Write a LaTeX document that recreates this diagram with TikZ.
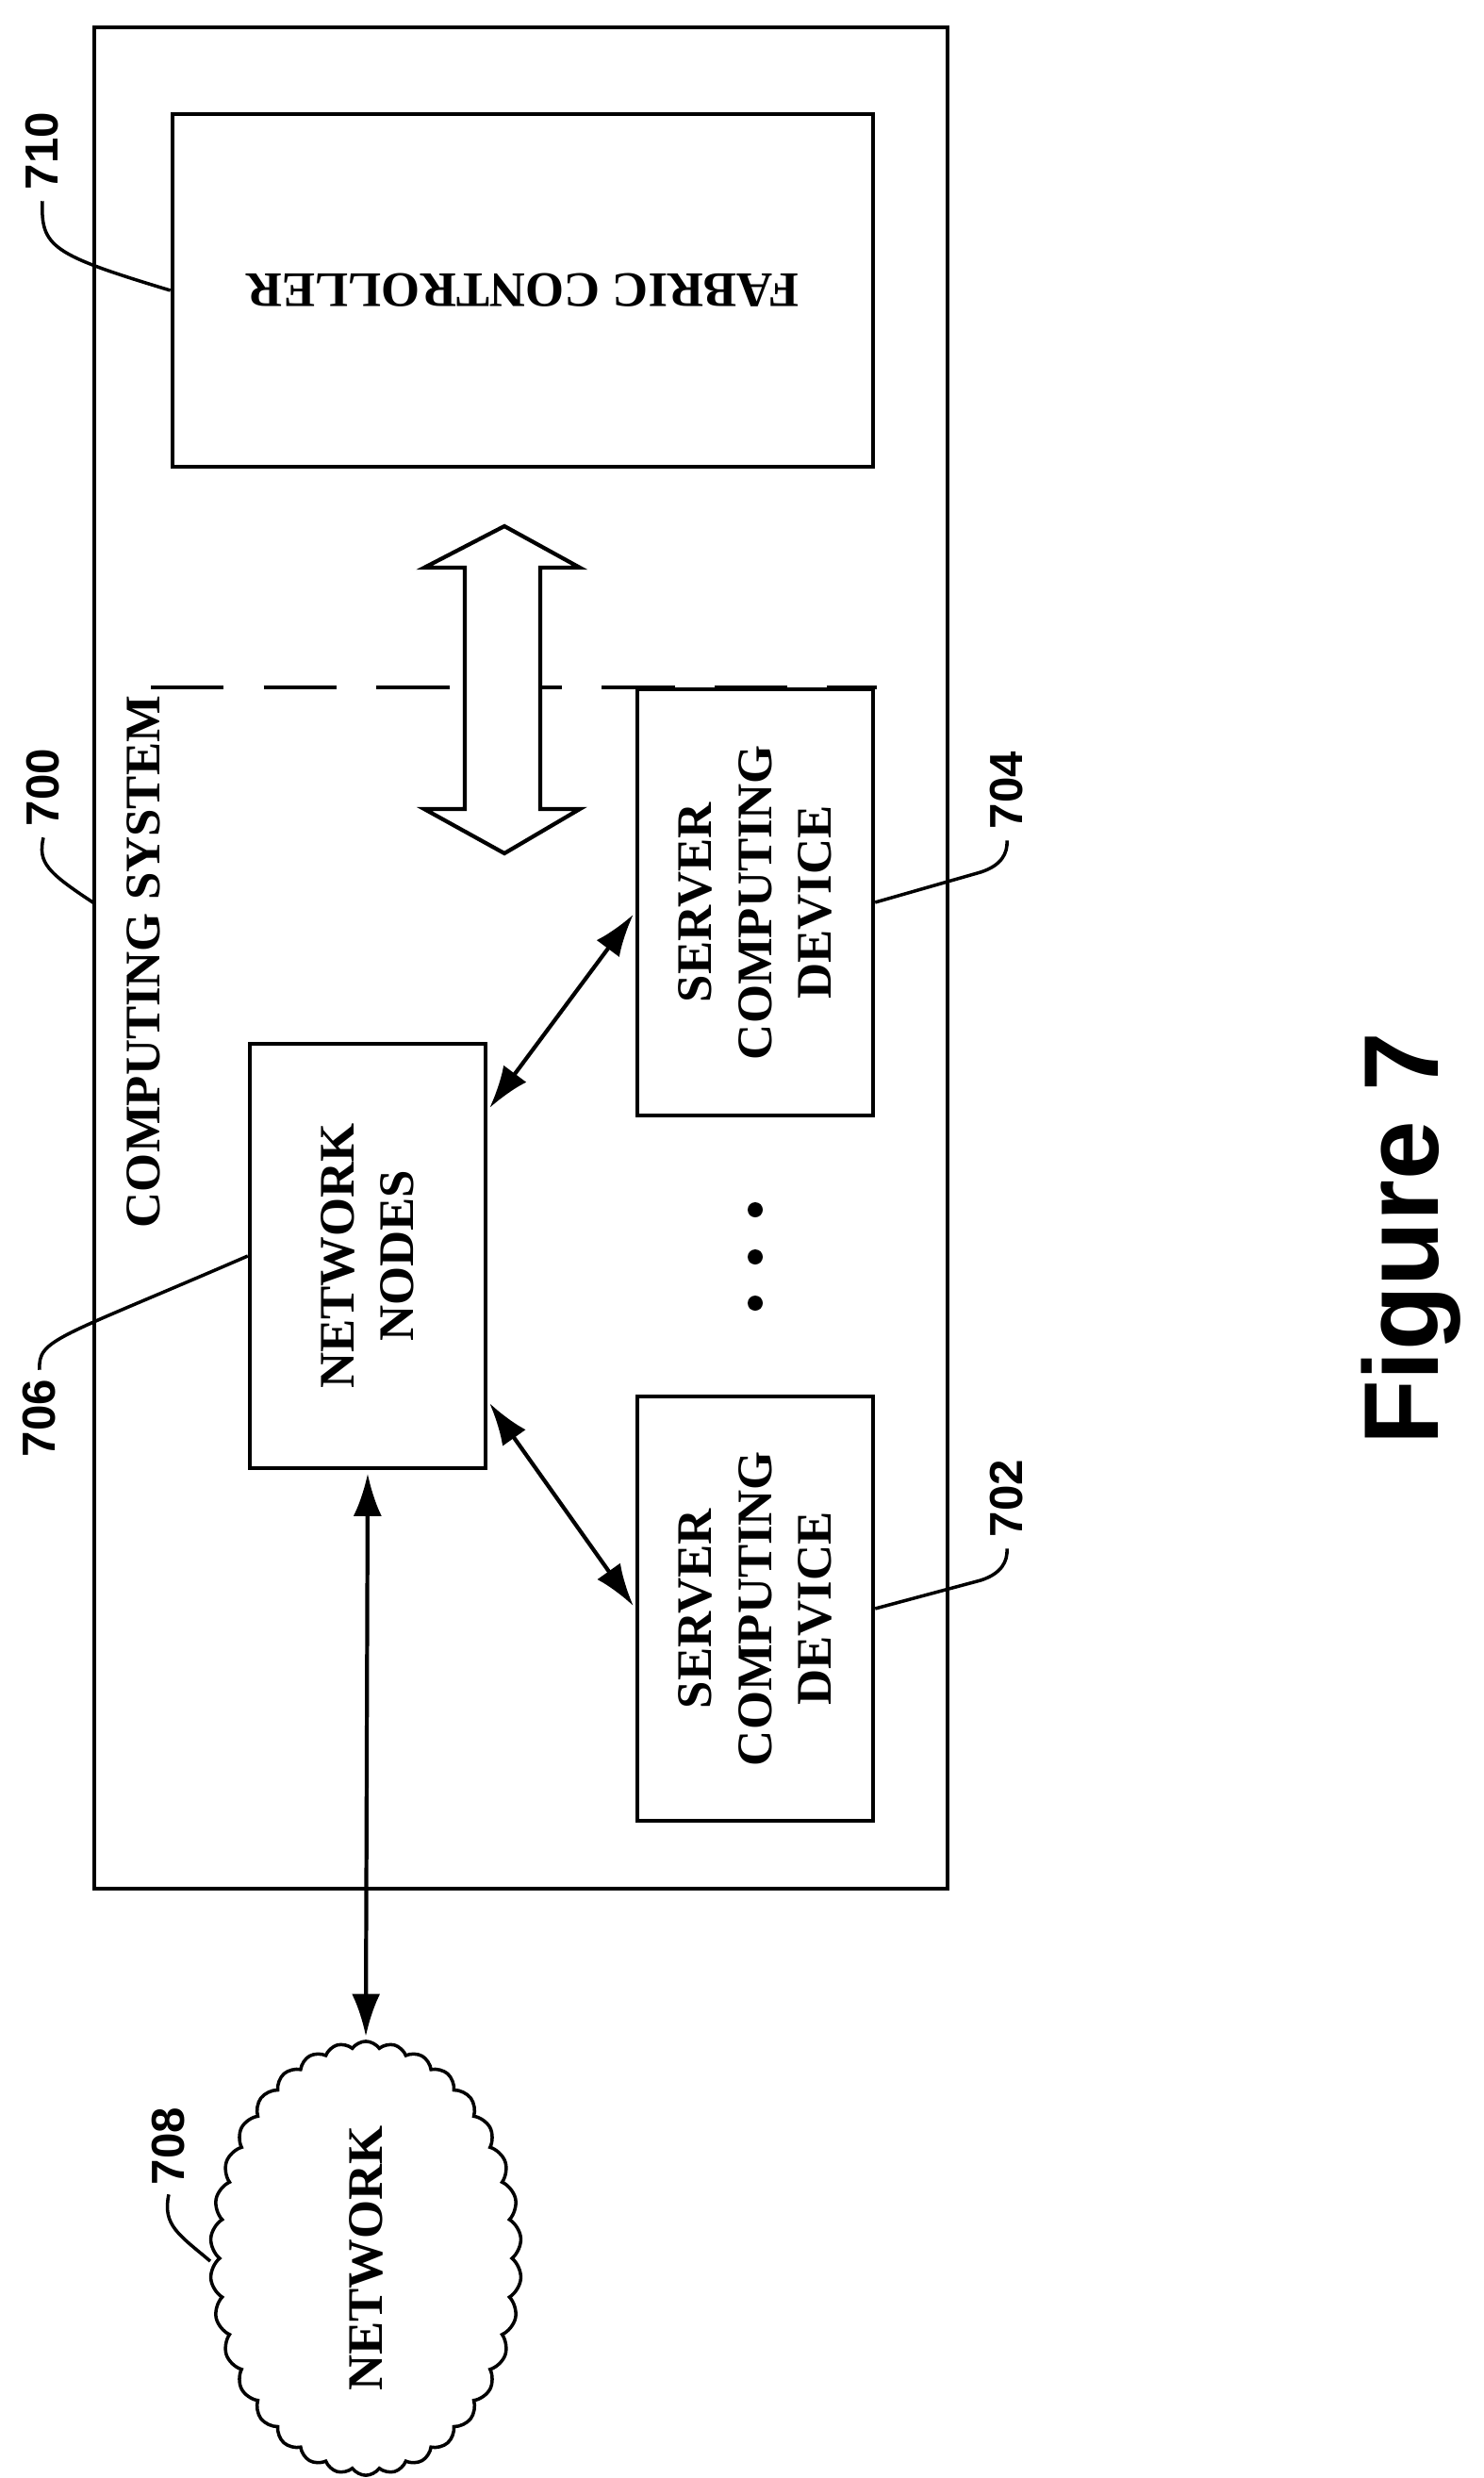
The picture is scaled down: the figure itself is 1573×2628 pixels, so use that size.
\documentclass[tikz,border=0pt]{standalone}
\usepackage{fontspec}
\setmainfont{Liberation Serif}
\setsansfont{Liberation Sans}
\usetikzlibrary{arrows.meta,shapes.symbols}

\tikzset{
  box/.style={draw, line width=1.2pt, align=center, inner sep=0pt, font=\fontsize{15}{18}\selectfont\bfseries},
  refnum/.style={font=\sffamily\fontsize{14}{16}\selectfont\bfseries, rotate=90, inner sep=1pt},
  leader/.style={line width=1pt},
  link/.style={line width=1.2pt, {Latex[length=4.5mm,width=3mm]}-{Latex[length=4.5mm,width=3mm]}, shorten <=1pt, shorten >=1pt}
}

\begin{document}
\begin{tikzpicture}[x=0.01cm, y=-0.01cm]
	\useasboundingbox (0,0) rectangle (1573,2628);
	% outer computing system box
	\draw[line width=1.2pt] (100,29) rectangle (1005,2003);
	\node[font=\fontsize{15}{18}\selectfont\bfseries, rotate=90] (title) at (152,1020) {COMPUTING SYSTEM};
	% fabric controller
	\node[box, minimum width=7.43cm, minimum height=3.74cm] (fabric) at (554.5,308) {};
	\node[font=\fontsize{15}{18}\selectfont\bfseries, rotate=180] (fabtxt) at (fabric) {FABRIC CONTROLLER};
	% dashed separation and double block arrow
	\draw[dashed, line width=1pt, dash pattern=on 22pt off 12pt] (160,729) -- (930,729);
	\draw[line width=1.2pt, fill=white] (535,558) -- (615,602) -- (573,602) -- (573,858) -- (615,858)
	  -- (535,905) -- (450,858) -- (493,858) -- (493,602) -- (450,602) -- cycle;
	% network nodes and servers
	\node[box, minimum width=2.5cm, minimum height=4.5cm] (nodes) at (390,1332) {};
	\node[font=\fontsize{15}{18}\selectfont\bfseries, rotate=90, align=center] at (nodes) {NETWORK\\NODES};
	\node[box, minimum width=2.5cm, minimum height=4.52cm] (srvb) at (801,957) {};
	\node[font=\fontsize{15}{18}\selectfont\bfseries, rotate=90, align=center] at (srvb) {SERVER\\COMPUTING\\DEVICE};
	\node[box, minimum width=2.5cm, minimum height=4.49cm] (srva) at (801,1706) {};
	\node[font=\fontsize{15}{18}\selectfont\bfseries, rotate=90, align=center] at (srva) {SERVER\\COMPUTING\\DEVICE};
	\foreach \y in {1283,1333,1382}
	  \fill (801,\y) circle (8);
	% network cloud
	\node[draw, cloud, cloud puffs=34, cloud puff arc=110, aspect=0.72, line width=1pt,
	  minimum width=3.3cm, minimum height=4.6cm, inner sep=0pt] (cloud) at (388,2395) {};
	\node[font=\fontsize{15}{18}\selectfont\bfseries, rotate=90] at (cloud) {NETWORK};
	% connectors
	\draw[link] (nodes.north east) ++(0,73) coordinate (na) -- (srvb.south west |- 0,967) coordinate (sb);
	\draw[link] (nodes.south east) ++(0,-74) coordinate (nb) -- (srva.north west |- 0,1706) coordinate (sa);
	\draw[link] (nodes.south) -- (cloud.north);
	% reference numerals
	\node[refnum] (n710) at (45,160) {710};
	\draw[leader] (n710.west) ++(0,8) .. controls (43,262) and (55,270) .. (fabric.west);
	\node[refnum] (n700) at (46,835) {700};
	\draw[leader] (n700.west) ++(0,8) .. controls (40,915) and (50,925) .. (100,958);
	\node[refnum] (n706) at (42,1504) {706};
	\draw[leader] (n706.east) ++(0,-6) .. controls (40,1420) and (60,1420) .. (nodes.west);
	\node[refnum] (n704) at (1068,838) {704};
	\draw[leader] (srvb.east) -- (1040,925) .. controls (1062,918) and (1069,905) .. ([yshift=-0.08cm]n704.west);
	\node[refnum] (n702) at (1068,1589) {702};
	\draw[leader] (srva.east) -- (1040,1676) .. controls (1062,1669) and (1069,1656) .. ([yshift=-0.08cm]n702.west);
	\node[refnum] (n708) at (179,2276) {708};
	\draw[leader] (n708.west) ++(0,6) .. controls (172,2360) and (190,2370) .. (223,2398);
	% figure caption
	\node[font=\sffamily\fontsize{32}{36}\selectfont\bfseries, rotate=90] (caption) at (1497,1314) {Figure 7};
\end{tikzpicture}
\end{document}
